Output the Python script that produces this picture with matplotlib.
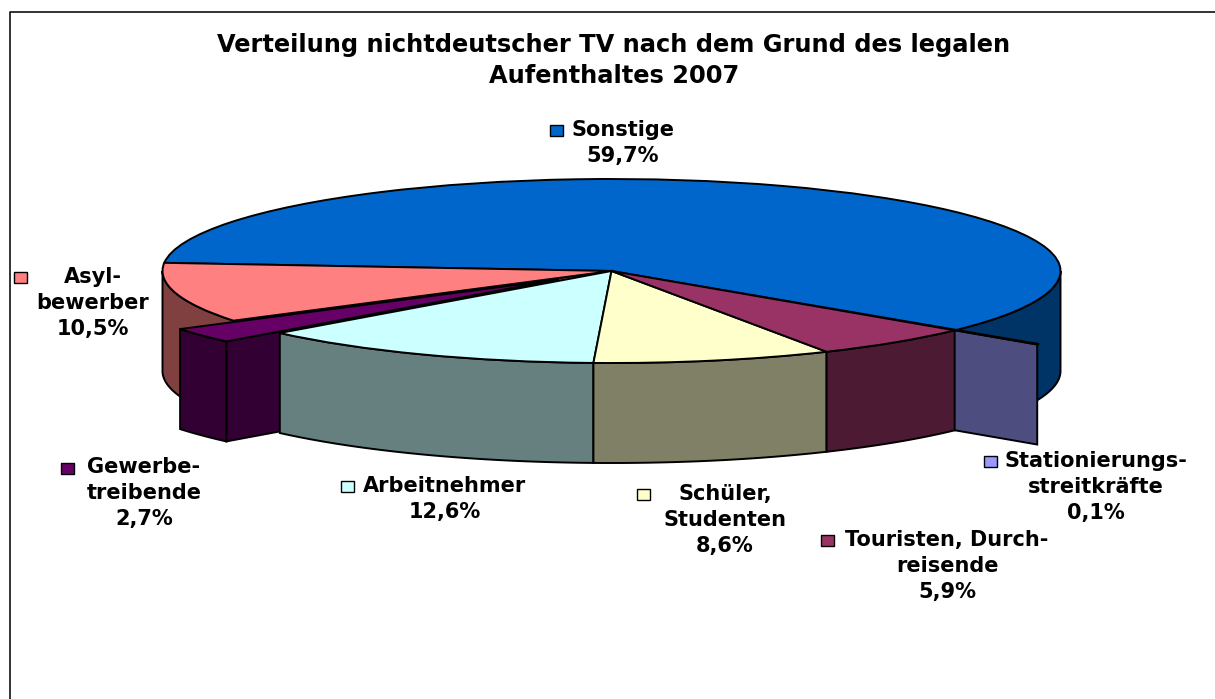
import numpy as np
import matplotlib
matplotlib.use("Agg")
import matplotlib.pyplot as plt
from matplotlib.patches import Polygon, Rectangle

plt.rcParams["font.family"] = ["DejaVu Sans"]

W, H = 1215, 699

# ── Data ───────────────────────────────────────────────────
names = ["Sonstige", "Asyl-\nbewerber", "Gewerbe-\ntreibende", "Arbeitnehmer",
         "Schüler,\nStudenten", "Touristen, Durch-\nreisende",
         "Stationierungs-\nstreitkräfte"]
values = [59.7, 10.5, 2.7, 12.6, 8.6, 5.9, 0.1]
value_labels = ["59,7%", "10,5%", "2,7%", "12,6%", "8,6%", "5,9%", "0,1%"]
colors = ["#0066CC", "#FF8080", "#660066", "#CCFFFF", "#FFFFCC", "#993366", "#9999FF"]
title = "Verteilung nichtdeutscher TV nach dem Grund des legalen\nAufenthaltes 2007"

# ── Pie geometry (pixels of the 3D look) ───────────────────
CX, CY = 611.5, 271
RX, RY = 449, 92
DEPTH = 100 / RY          # wall height in data units
START = -39.8
EXPLODE = [0, 0, 0.15, 0, 0, 0, 0.24]
EDGE = 1.4

fig = plt.figure(figsize=(W / 100, H / 100), dpi=100, facecolor="white")
ax = fig.add_axes([0, 0, 1, 1])

wedges, _ = ax.pie(values, colors=colors, startangle=START, explode=EXPLODE, radius=1,
                   wedgeprops=dict(edgecolor="black", linewidth=EDGE))
ax.set_aspect("auto")
ax.set_xlim(-CX / RX, (W - CX) / RX)
ax.set_ylim((CY - H) / RY, CY / RY)
ax.axis("off")


def shade(c):
    return tuple(v * 0.5 for v in matplotlib.colors.to_rgb(c))


def arc_wall(w, color, z):
    """Outer wall, only the part on the front of the ellipse."""
    a, b = w.theta1 % 360, w.theta2 % 360
    if b < a:
        b += 360
    for lo, hi in [(180, 360), (540, 720)]:
        t1, t2 = max(a, lo), min(b, hi)
        if t2 <= t1:
            continue
        t = np.radians(np.linspace(t1, t2, 80))
        cx, cy = w.center
        x, y = cx + np.cos(t), cy + np.sin(t)
        pts = np.r_[np.c_[x, y], np.c_[x, y - DEPTH][::-1]]
        ax.add_patch(Polygon(pts, closed=True, facecolor=shade(color), edgecolor="black",
                             linewidth=EDGE, zorder=z))


def radial_wall(w, angle, color, z):
    """Cut face of a slice, from its apex out to the rim."""
    cx, cy = w.center
    t = np.radians(angle)
    x, y = cx + np.cos(t), cy + np.sin(t)
    pts = [(cx, cy), (x, y), (x, y - DEPTH), (cx, cy - DEPTH)]
    ax.add_patch(Polygon(pts, closed=True, facecolor=shade(color), edgecolor="black",
                         linewidth=EDGE, zorder=z))


# back to front
top_z = [2, 2, 3, 4, 4, 4, 1]
for w, z in zip(wedges, top_z):
    w.set_zorder(z + 0.5)

arc_wall(wedges[0], colors[0], 1)
arc_wall(wedges[1], colors[1], 1)
radial_wall(wedges[6], wedges[6].theta1, colors[6], 1.2)
radial_wall(wedges[1], wedges[1].theta2, colors[1], 2)
radial_wall(wedges[2], wedges[2].theta2, colors[2], 3)
arc_wall(wedges[2], colors[2], 3)
for i in (3, 4, 5):
    arc_wall(wedges[i], colors[i], 4)

# ── Overlay in pixel coordinates: frame, title, labels ─────
ov = fig.add_axes([0, 0, 1, 1], facecolor="none")
ov.set_xlim(0, W)
ov.set_ylim(H, 0)
ov.axis("off")

ov.plot([9.5, 9.5, W], [H, 12, 12], color="#111111", lw=1.2, clip_on=False)
ov.text(614, 45, title.split("\n")[0], ha="center", va="center", fontsize=17.4, fontweight="bold")
ov.text(614, 76, title.split("\n")[1], ha="center", va="center", fontsize=17.4, fontweight="bold")

# label layout: text centre x, first line y, key x, key y
label_pos = [
    (623, 130, 556, 130),
    (93, 277, 20, 277),
    (144, 467, 67, 468),
    (445, 486, 347, 486),
    (725, 494, 643, 494),
    (947, 540, 827, 540),
    (1096, 461, 990, 461),
]
LINE = 26
for name, val, col, (tx, ty, kx, ky) in zip(names, value_labels, colors, label_pos):
    lines = name.split("\n") + [val]
    for j, s in enumerate(lines):
        ov.text(tx, ty + j * LINE, s, ha="center", va="center", fontsize=15, fontweight="bold")
    ov.add_patch(Rectangle((kx - 6.5, ky - 5.5), 13, 11, facecolor=col, edgecolor="black", linewidth=1.0))

plt.savefig("out.png", dpi=100, facecolor="white")
plt.close()
